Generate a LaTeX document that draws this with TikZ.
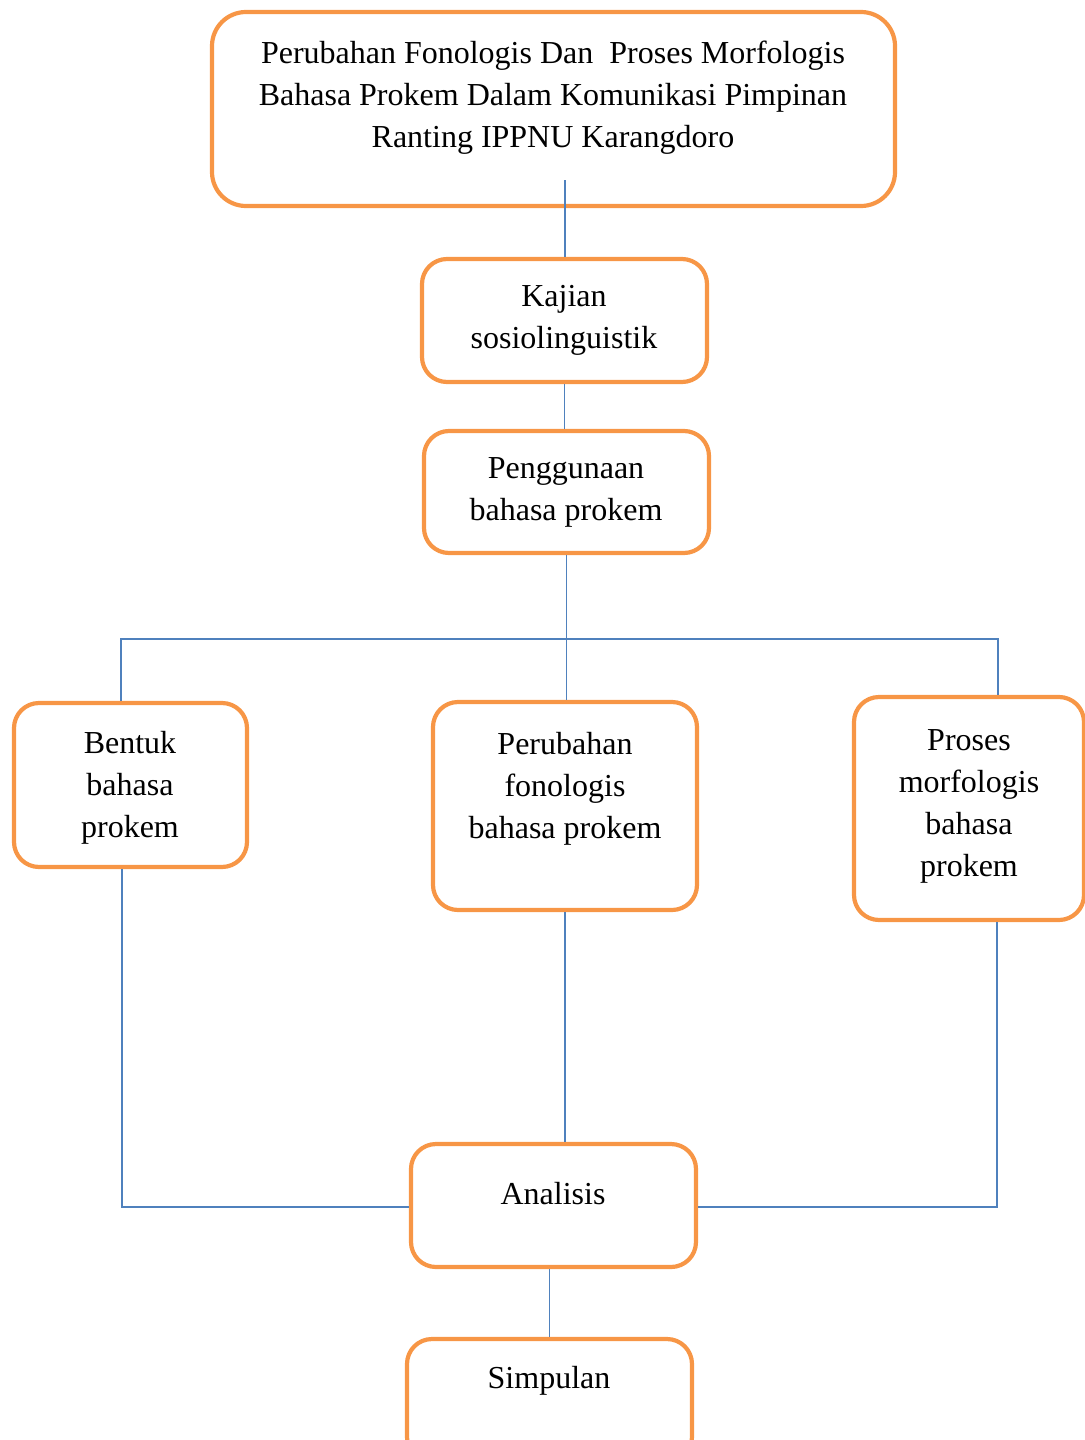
\documentclass[tikz,border=0pt]{standalone}
\usepackage{fontspec}
\setmainfont{Liberation Serif}
\usepackage{xcolor}
\usetikzlibrary{positioning}
\definecolor{boxorange}{HTML}{F79646}
\definecolor{lineblue}{HTML}{4F81BD}

\begin{document}
\begin{tikzpicture}[x=0.5pt, y=-0.5pt,
    box/.style={draw=boxorange, line width=2.1pt, rounded corners=12.5pt, inner sep=0pt},
    txt/.style={align=center, font=\fontsize{16}{21}\selectfont},
    conn/.style={draw=lineblue, line width=0.8pt}]
      \useasboundingbox (0,0) rectangle (1085,1440);
      \clip (0,0) rectangle (1085,1440);

      % frames
      \node[box, rounded corners=17pt, minimum width=341.5pt, minimum height=97pt] (judul) at (553.5,109) {};
      \node[box, minimum width=142.5pt, minimum height=61.5pt] (kajian) at (564.5,320.5) {};
      \node[box, minimum width=142.5pt, minimum height=61pt] (guna) at (566.5,492) {};
      \node[box, minimum width=116.5pt, minimum height=82pt] (bentuk) at (130.5,785) {};
      \node[box, minimum width=132pt, minimum height=104pt] (fonologi) at (565,806) {};
      \node[box, minimum width=115pt, minimum height=111.5pt] (morfologi) at (969,808.5) {};
      \node[box, minimum width=142.5pt, minimum height=61.5pt] (analisis) at (553.5,1205.5) {};
      \node[box, minimum width=142.5pt, minimum height=61.5pt] (simpulan) at (549.5,1400.5) {};

      % texts
      \node[txt] (t-judul) at (553,98) {Perubahan Fonologis Dan~ Proses Morfologis\\Bahasa Prokem Dalam Komunikasi Pimpinan\\Ranting IPPNU Karangdoro};
      \node[txt] (t-kajian) at (564,320) {Kajian\\sosiolinguistik};
      \node[txt] (t-guna) at (566,492) {Penggunaan\\bahasa prokem};
      \node[txt] (t-bentuk) at (130,788) {Bentuk\\bahasa\\prokem};
      \node[txt] (t-fonologi) at (565,789) {Perubahan\\fonologis\\bahasa prokem};
      \node[txt] (t-morfologi) at (969,806) {Proses\\morfologis\\bahasa\\prokem};
      \node[txt] (t-analisis) at (553,1194) {Analisis};
      \node[txt] (t-simpulan) at (549,1381) {Simpulan};

      % connectors
      \coordinate (kaki) at (565,180);
      \coordinate (cabangL) at (121,639);
      \coordinate (cabangR) at (998,639);
      \coordinate (temuL) at (122,1207);
      \coordinate (temuR) at (997,1207);

      \path[conn] (kaki) -- (kaki |- kajian.north);
      \path[conn] (kajian.south) -- (kajian.south |- guna.north);
      \path[conn] (guna.south) -- (guna.south |- fonologi.north);
      \path[conn] (cabangL |- bentuk.north) -- (cabangL) -- (cabangR) -- (cabangR |- morfologi.north);
      \path[conn] (temuL |- bentuk.south) -- (temuL) -- (temuL -| analisis.west);
      \path[conn] (fonologi.south) -- (fonologi.south |- analisis.north);
      \path[conn] (temuR |- morfologi.south) -- (temuR) -- (temuR -| analisis.east);
      \path[conn] (analisis.south -| simpulan.north) -- (simpulan.north);
\end{tikzpicture}
\end{document}
